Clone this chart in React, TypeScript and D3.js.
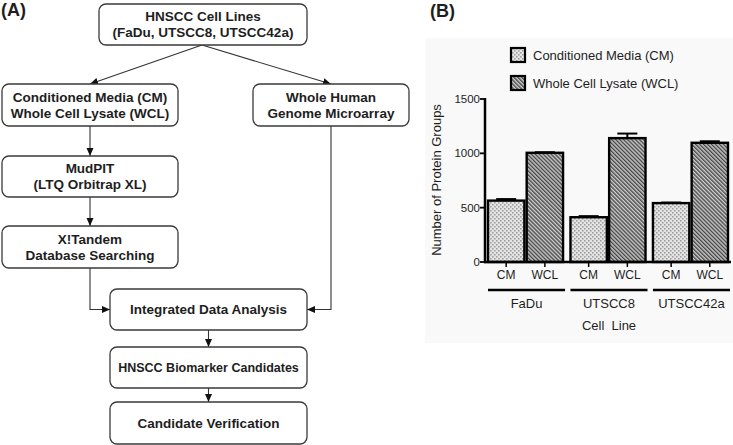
import React from "react";
import * as d3 from "d3";

// ---------- Data (panel B) ----------
const cellLines = ["FaDu", "UTSCC8", "UTSCC42a"];
const sampleTypes = ["CM", "WCL"];
const legendLabels = ["Conditioned Media (CM)", "Whole Cell Lysate (WCL)"];
const cmValues = [565, 412, 542];
const cmErrors = [14, 10, 5];
const wclValues = [1005, 1140, 1097];
const wclErrors = [5, 42, 14];
const yTicks = [0, 500, 1000, 1500];
const xAxisTitleLines = ["Cell  Line"];
const yAxisTitle = "Number of Protein Groups";
const panelLabels = ["(A)", "(B)"];

// ---------- Flowchart text (panel A) ----------
const flowIds = ["cells", "cmwcl", "micro", "mudpit", "xtandem", "integrated", "biomarker", "verification"];
const flowTexts = [
  ["HNSCC Cell Lines", "(FaDu, UTSCC8, UTSCC42a)"],
  ["Conditioned Media (CM)", "Whole Cell Lysate (WCL)"],
  ["Whole Human", "Genome Microarray"],
  ["MudPIT", "(LTQ Orbitrap XL)"],
  ["X!Tandem", "Database Searching"],
  ["Integrated Data Analysis"],
  ["HNSCC Biomarker Candidates"],
  ["Candidate Verification"],
];

// layout for flowchart boxes (positions/sizes)
const boxLayout: Record<string, { x: number; y: number; w: number; h: number; fs: number }> = {
  cells: { x: 99, y: 4, w: 208, h: 41, fs: 13.5 },
  cmwcl: { x: 2, y: 84, w: 176, h: 42, fs: 13.5 },
  micro: { x: 253, y: 84, w: 156, h: 42, fs: 13.5 },
  mudpit: { x: 2, y: 156, w: 176, h: 41, fs: 13.5 },
  xtandem: { x: 2, y: 226, w: 176, h: 42, fs: 13.5 },
  integrated: { x: 110, y: 289, w: 197, h: 41, fs: 13.5 },
  biomarker: { x: 110, y: 347, w: 197, h: 41, fs: 12.5 },
  verification: { x: 110, y: 402, w: 197, h: 42, fs: 13.5 },
};

const FONT = "'Liberation Sans', Arial, Helvetica, sans-serif";
const INK = "#1e1e1e";

function Flowchart() {
  const B = boxLayout;
  const cx = (id: string) => B[id].x + B[id].w / 2;
  const bottom = (id: string) => B[id].y + B[id].h;
  const midY = (id: string) => B[id].y + B[id].h / 2;
  const leftX = 90;
  const arrows: string[] = [
    `M${cx("cells") - 1},${bottom("cells")} L${leftX},${B.cmwcl.y}`,
    `M${cx("cells") - 1},${bottom("cells")} L${cx("micro")},${B.micro.y}`,
    `M${leftX},${bottom("cmwcl")} L${leftX},${B.mudpit.y}`,
    `M${leftX},${bottom("mudpit")} L${leftX},${B.xtandem.y}`,
    `M${leftX},${bottom("xtandem")} L${leftX},${midY("integrated")} L${B.integrated.x},${midY("integrated")}`,
    `M${cx("micro")},${bottom("micro")} L${cx("micro")},${midY("integrated")} L${B.integrated.x + B.integrated.w},${midY("integrated")}`,
    `M${cx("integrated")},${bottom("integrated")} L${cx("integrated")},${B.biomarker.y}`,
    `M${cx("biomarker")},${bottom("biomarker")} L${cx("biomarker")},${B.verification.y}`,
  ];
  return (
    <g>
      {arrows.map((d, i) => (
        <path key={i} d={d} fill="none" stroke="#333" strokeWidth={1.1} markerEnd="url(#arrowHead)" />
      ))}
      {flowIds.map((id, i) => {
        const b = B[id];
        const lines = flowTexts[i];
        const lh = 16;
        const c = b.y + b.h / 2;
        return (
          <g key={id}>
            <rect x={b.x} y={b.y} width={b.w} height={b.h} rx={7} ry={7} fill="#fff" stroke="#3a3a3a" strokeWidth={1.3} />
            {lines.map((t, j) => (
              <text
                key={j}
                x={b.x + b.w / 2}
                y={c + (j - (lines.length - 1) / 2) * lh + b.fs * 0.36}
                textAnchor="middle"
                fontFamily={FONT}
                fontWeight="bold"
                fontSize={b.fs}
                fill={INK}
              >
                {t}
              </text>
            ))}
          </g>
        );
      })}
    </g>
  );
}

function BarChart() {
  const y = d3.scaleLinear().domain([0, 1500]).range([262, 99]);
  const x0 = d3.scaleBand().domain(cellLines).range([488, 728]).paddingInner(0.09).paddingOuter(0);
  const x1 = d3.scaleBand().domain(sampleTypes).range([0, x0.bandwidth()]).paddingInner(0.06);
  const series = [
    { key: "CM", values: cmValues, errors: cmErrors, fill: "url(#patCM)" },
    { key: "WCL", values: wclValues, errors: wclErrors, fill: "url(#patWCL)" },
  ];
  const axisX = 485;
  const capW = 20;
  return (
    <g fontFamily={FONT} fill={INK}>
      <rect x={425} y={38} width={308} height={305} fill="#f9f9f9" />
      {/* legend */}
      {legendLabels.map((l, i) => (
        <g key={l}>
          <rect x={511} y={48 + i * 28} width={14} height={14} fill={series[i].fill} stroke="#000" strokeWidth={2.2} />
          <text x={533} y={60 + i * 28} fontSize={13} fill={INK}>{l}</text>
        </g>
      ))}
      {/* bars */}
      {series.map((s) =>
        cellLines.map((c, i) => {
          const bx = (x0(c) as number) + (x1(s.key) as number);
          const bw = x1.bandwidth();
          const top = y(s.values[i]);
          const etop = y(s.values[i] + s.errors[i]);
          const mid = bx + bw / 2;
          return (
            <g key={s.key + c}>
              <line x1={mid} x2={mid} y1={top} y2={etop} stroke="#000" strokeWidth={2} />
              <line x1={mid - capW / 2} x2={mid + capW / 2} y1={etop} y2={etop} stroke="#000" strokeWidth={2} />
              <rect x={bx} y={top} width={bw} height={y(0) - top} fill={s.fill} stroke="#000" strokeWidth={2.4} />
              <line x1={mid} x2={mid} y1={y(0)} y2={y(0) + 5} stroke="#000" strokeWidth={1.5} />
              <text x={mid} y={279} textAnchor="middle" fontSize={12} fill={INK}>{s.key}</text>
            </g>
          );
        })
      )}
      {/* axes */}
      <line x1={axisX} x2={axisX} y1={y(1500) - 1} y2={y(0) + 1.2} stroke="#000" strokeWidth={2.5} />
      <line x1={axisX - 1} x2={731} y1={y(0)} y2={y(0)} stroke="#000" strokeWidth={2.5} />
      {yTicks.map((t) => (
        <g key={t}>
          <line x1={axisX - 5} x2={axisX} y1={y(t)} y2={y(t)} stroke="#000" strokeWidth={1.8} />
          <text x={axisX - 5} y={y(t) + 4} textAnchor="end" fontSize={11.5} fill={INK}>{t}</text>
        </g>
      ))}
      {/* group lines and labels */}
      {cellLines.map((c) => {
        const gx = x0(c) as number;
        const gw = x0.bandwidth();
        return (
          <g key={c}>
            <line x1={gx} x2={gx + gw + 2} y1={290} y2={290} stroke="#000" strokeWidth={2.5} />
            <text x={gx + gw / 2 + 1} y={308} textAnchor="middle" fontSize={13} fill={INK}>{c}</text>
          </g>
        );
      })}
      {xAxisTitleLines.map((t, i) => (
        <text key={t} x={(x0("UTSCC8") as number) + x0.bandwidth() / 2 + 1} y={330 + i * 16} textAnchor="middle" fontSize={13} fill={INK} style={{ whiteSpace: "pre" }}>
          {t}
        </text>
      ))}
      <text transform={`translate(441,180) rotate(-90)`} textAnchor="middle" fontSize={13} fill={INK}>
        {yAxisTitle}
      </text>
    </g>
  );
}

export default function App() {
  return (
    <div style={{ position: "absolute", left: 0, top: 0 }}>
      <svg width={733} height={445} viewBox="0 0 733 445" style={{ display: "block", background: "#fff" }}>
        <defs>
          <marker id="arrowHead" viewBox="0 0 8 8" refX={8} refY={4} markerWidth={8} markerHeight={8} markerUnits="userSpaceOnUse" orient="auto">
            <path d="M0,0.5 L8,4 L0,7.5 z" fill="#111" />
          </marker>
          <pattern id="patCM" width={4} height={4} patternUnits="userSpaceOnUse">
            <rect width={4} height={4} fill="#e4e4e4" />
            <rect x={0} y={0} width={1.6} height={1.6} fill="#a0a0a0" />
            <rect x={2} y={2} width={1.6} height={1.6} fill="#a0a0a0" />
          </pattern>
          <pattern id="patWCL" width={2.8} height={2.8} patternUnits="userSpaceOnUse" patternTransform="rotate(-45)">
            <rect width={2.8} height={2.8} fill="#cfcfcf" />
            <rect x={0} y={0} width={1.4} height={2.8} fill="#474747" />
          </pattern>
        </defs>
        {panelLabels.map((l, i) => (
          <text key={l} x={i === 0 ? 1 : 430} y={i === 0 ? 16 : 17} fontFamily={FONT} fontWeight="bold" fontSize={18} fill={INK}>
            {l}
          </text>
        ))}
        <Flowchart />
        <BarChart />
      </svg>
    </div>
  );
}
